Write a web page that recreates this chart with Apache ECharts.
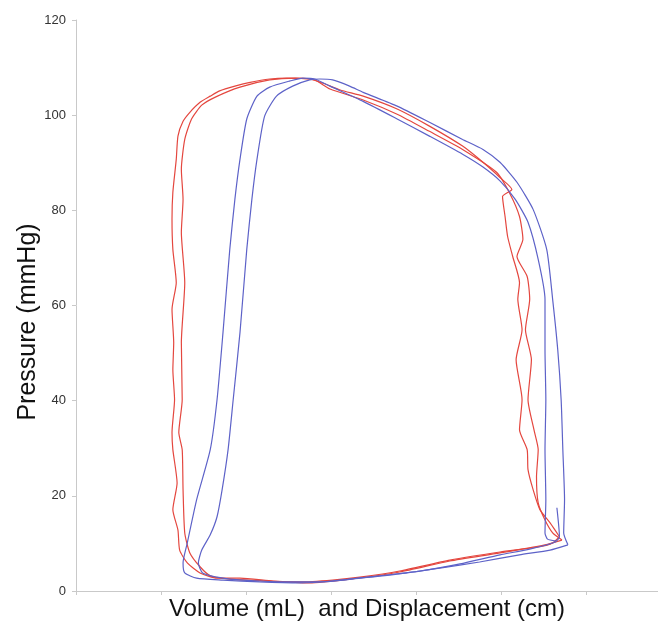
<!DOCTYPE html>
<html>
<head>
<meta charset="utf-8">
<script src="https://cdn.jsdelivr.net/npm/echarts@6/dist/echarts.min.js"></script>
<style>
  html, body { margin: 0; padding: 0; background: #fff; }
  #chart { width: 658px; height: 626px; }
</style>
</head>
<body>
<div id="chart"></div>
<script>
// axis ticks
const yTicks = [0, 20, 40, 60, 80, 100, 120];
const xTicks = [0, 1, 2, 3, 4, 5, 6];

// loops: [volume/displacement, pressure]
const redLoopA = [
  [5.69, 11.4], [5.61, 10.1], [5.46, 9.3], [4.99, 8.2], [4.40, 6.5], [3.81, 4.2], [3.34, 2.9],
  [3.02, 2.3], [2.64, 1.9], [2.32, 2.1], [1.93, 2.7], [1.66, 2.7], [1.46, 3.8], [1.31, 5.9],
  [1.22, 8.6], [1.20, 12.8], [1.14, 17.1], [1.19, 22.7], [1.14, 29.7], [1.13, 33.3], [1.16, 40.2],
  [1.14, 46.5], [1.15, 52.2], [1.13, 59.2], [1.18, 64.8], [1.14, 71.8], [1.13, 78.1], [1.14, 83.8],
  [1.18, 90.7], [1.20, 95.6], [1.26, 98.7], [1.34, 100.6], [1.46, 102.7], [1.58, 104.0], [1.69, 105.1],
  [1.87, 106.1], [2.05, 106.9], [2.28, 107.6], [2.48, 107.8], [2.75, 107.6], [2.91, 106.7], [3.11, 105.3],
  [3.38, 104.0], [3.78, 101.3], [4.16, 97.7], [4.55, 93.5], [4.79, 90.1], [4.99, 86.9], [5.13, 84.4],
  [5.02, 82.9], [5.05, 78.7], [5.08, 74.5], [5.14, 70.3], [5.22, 64.8], [5.20, 61.3], [5.25, 54.9],
  [5.18, 48.6], [5.25, 40.2], [5.22, 33.9], [5.31, 29.7], [5.32, 25.5], [5.38, 21.3], [5.46, 17.1],
  [5.58, 14.3], [5.69, 11.4]
];
const redLoopB = [
  [5.72, 10.7], [5.52, 9.7], [4.99, 8.0], [4.40, 6.3], [3.81, 4.0], [3.22, 2.5], [2.75, 1.7],
  [2.28, 2.1], [1.81, 2.5], [1.58, 3.2], [1.46, 5.1], [1.34, 8.0], [1.28, 12.2], [1.26, 21.3],
  [1.25, 29.7], [1.21, 33.3], [1.25, 40.2], [1.24, 52.2], [1.28, 64.8], [1.24, 75.4], [1.26, 82.3],
  [1.24, 88.6], [1.28, 94.9], [1.36, 99.2], [1.48, 102.1], [1.64, 103.8], [1.93, 105.9], [2.28, 107.4],
  [2.58, 107.8], [2.81, 107.4], [2.99, 105.5], [3.38, 103.2], [3.78, 100.2], [4.16, 96.6], [4.55, 92.8],
  [4.95, 88.0], [5.11, 83.4], [5.22, 78.7], [5.26, 73.9], [5.19, 70.3], [5.31, 66.1], [5.34, 61.3],
  [5.29, 54.9], [5.36, 48.6], [5.32, 40.2], [5.39, 33.9], [5.44, 29.7], [5.42, 24.0], [5.44, 18.5],
  [5.52, 14.9], [5.61, 12.2], [5.72, 10.7]
];
const blueLoopA = [
  [5.66, 17.5], [5.69, 11.4], [5.64, 10.3], [5.34, 8.8], [4.99, 7.6], [4.52, 5.7], [4.05, 4.2],
  [3.58, 3.2], [3.02, 2.1], [2.64, 1.7], [2.16, 1.9], [1.73, 2.3], [1.42, 2.7], [1.28, 3.8],
  [1.26, 5.9], [1.31, 10.1], [1.42, 19.2], [1.58, 29.7], [1.66, 40.2], [1.73, 54.3], [1.81, 71.8],
  [1.87, 82.3], [1.93, 90.7], [2.01, 99.2], [2.13, 104.0], [2.28, 105.9], [2.52, 107.2], [2.67, 107.8],
  [2.81, 107.6], [2.99, 106.1], [3.38, 102.9], [3.78, 99.2], [4.16, 95.6], [4.55, 91.8], [4.79, 89.1],
  [4.99, 86.2], [5.17, 82.3], [5.32, 77.5], [5.44, 69.7], [5.52, 61.3], [5.52, 50.7], [5.53, 40.2],
  [5.52, 29.7], [5.53, 19.2], [5.52, 12.2], [5.55, 10.9], [5.65, 10.5]
];
const blueLoopB = [
  [5.79, 9.7], [5.58, 8.6], [5.22, 7.6], [4.75, 6.1], [4.28, 4.8], [3.81, 3.6], [3.34, 2.7],
  [2.87, 1.9], [2.52, 1.9], [2.16, 2.1], [1.81, 2.5], [1.66, 2.9], [1.49, 3.8], [1.44, 5.9],
  [1.48, 8.6], [1.58, 11.8], [1.66, 15.6], [1.72, 21.3], [1.79, 29.7], [1.85, 40.2], [1.93, 54.3],
  [2.01, 71.8], [2.07, 82.3], [2.13, 90.7], [2.22, 99.8], [2.36, 104.0], [2.55, 106.1], [2.75, 107.4],
  [2.87, 107.6], [3.02, 107.4], [3.22, 106.1], [3.38, 104.8], [3.78, 101.9], [4.16, 98.5], [4.55, 94.9],
  [4.79, 92.8], [4.99, 90.1], [5.19, 85.9], [5.38, 80.2], [5.54, 71.8], [5.61, 61.3], [5.67, 50.7],
  [5.71, 40.2], [5.73, 29.7], [5.75, 19.2], [5.74, 12.2], [5.79, 9.7]
];

const red = '#e4473f';
const blue = '#5d62c8';

const chart = echarts.init(document.getElementById('chart'));

// 每條曲線都用同一個樣式
const loop = (name, data, color) => ({
  name: name,
  type: 'line',
  data: data,
  showSymbol: false,
  symbol: 'none',
  smooth: 0.2,
  lineStyle: { color: color, width: 1.2 },
  animation: false
});

chart.setOption({
  backgroundColor: '#fff',
  grid: { left: 76, right: 0, top: 20, bottom: 35 },
  xAxis: {
    type: 'value',
    min: 0,
    max: 6.85,
    interval: 1,
    name: 'Volume (mL)  and Displacement (cm)',
    nameLocation: 'middle',
    nameGap: 6,
    nameTextStyle: { fontFamily: 'Liberation Sans', fontSize: 24, color: '#111', verticalAlign: 'top' },
    axisLine: { lineStyle: { color: '#c9c9c9', width: 1 } },
    axisTick: { show: true, length: 4, inside: false, customValues: xTicks, lineStyle: { color: '#c9c9c9' } },
    axisLabel: { show: false },
    splitLine: { show: false }
  },
  yAxis: {
    type: 'value',
    min: 0,
    max: 120,
    interval: 20,
    axisLine: { show: true, lineStyle: { color: '#c9c9c9', width: 1 } },
    axisTick: { show: true, length: 4, customValues: yTicks, lineStyle: { color: '#c9c9c9' } },
    axisLabel: { customValues: yTicks, margin: 10, fontFamily: 'Liberation Sans', fontSize: 13, color: '#333' },
    splitLine: { show: false }
  },
  graphic: [
    {
      type: 'text',
      x: 28,
      y: 322,
      rotation: Math.PI / 2,
      style: {
        text: 'Pressure (mmHg)',
        font: '25px "Liberation Sans"',
        fill: '#111',
        align: 'center',
        verticalAlign: 'middle'
      }
    }
  ],
  series: [
    loop('red A', redLoopA, red),
    loop('red B', redLoopB, red),
    loop('blue A', blueLoopA, blue),
    loop('blue B', blueLoopB, blue)
  ]
});

window.addEventListener('resize', () => chart.resize());
</script>
</body>
</html>
